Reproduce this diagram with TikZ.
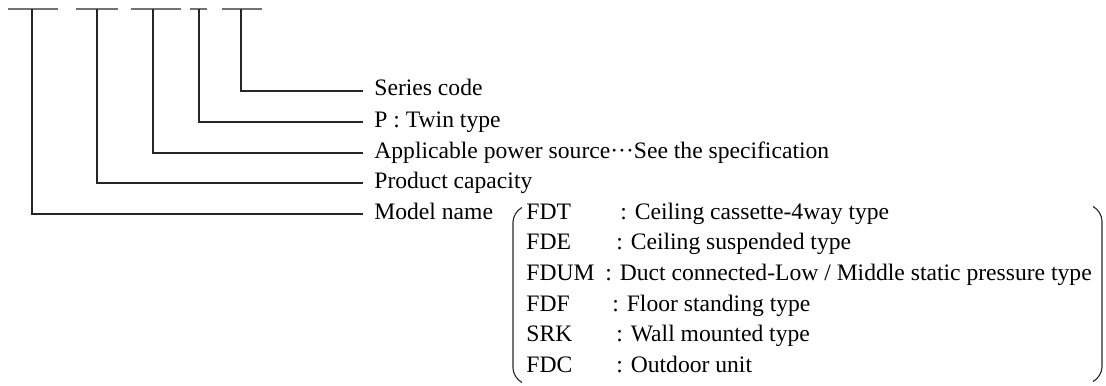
\documentclass[tikz,border=0pt]{standalone}
\usepackage{fontspec}
\setmainfont{Liberation Serif}
\begin{document}
\begin{tikzpicture}[x=0.5pt, y=-0.5pt,
    slot/.style={line width=1pt, draw=black!55},
    lead/.style={line width=0.55pt, draw=black!85},
    lbl/.style={anchor=west, inner xsep=5.5pt, inner ysep=0pt, text height=8pt, text depth=3pt, font=\fontsize{11.8}{14}\selectfont},
    code/.style={anchor=west, inner sep=0pt, text height=8pt, text depth=3pt, font=\fontsize{11.8}{14}\selectfont}]
  \useasboundingbox (0,0) rectangle (1106,385);
  % blanks of the model code
  \foreach \a/\b/\m/\k in {8/58/32/k1, 76/118/97/k2, 131/181/153/k3, 190/207/199/k4, 222/262/241/k5} {
    \draw[slot] (\a,9) -- (\b,9);
    \coordinate (\k) at (\m,9);
  }
  \node[lbl] (sser) at (363,91) {Series code};
  \node[lbl] (stwin) at (363,122) {P : Twin type};
  \node[lbl] (spow) at (363,153) {Applicable power source\char"00B7\char"00B7\char"00B7 See the specification};
  \node[lbl] (scap) at (363,183) {Product capacity};
  \node[lbl] (smod) at (363,214) {Model name};
  \draw[lead] (k5) |- (sser.west);
  \draw[lead] (k4) |- (stwin.west);
  \draw[lead] (k3) |- (spow.west);
  \draw[lead] (k2) |- (scap.west);
  \draw[lead] (k1) |- (smod.west);
  % model names
  \foreach \i/\c/\x/\t in {0/FDT/620/{Ceiling cassette-4way type}, 1/FDE/616/{Ceiling suspended type},
      2/FDUM/605/{Duct connected-Low / Middle static pressure type}, 3/FDF/612/{Floor standing type},
      4/SRK/616/{Wall mounted type}, 5/FDC/616/{Outdoor unit}} {
    \node[code] (c\i) at (526,214+30.7*\i) {\c};
    \node[code] (t\i) at (\x,214+30.7*\i) {: \t};
  }
  \draw[lead, rounded corners=5pt] (521,208) -- (513,212) -- (513,378) -- (521,382);
  \draw[lead, rounded corners=5pt] (1094,207) -- (1102,211) -- (1102,377) -- (1094,381);
\end{tikzpicture}
\end{document}
